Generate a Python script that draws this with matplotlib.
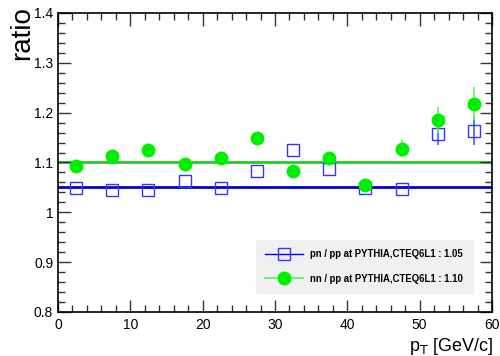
import matplotlib
matplotlib.use("Agg")
import matplotlib.pyplot as plt
from matplotlib.ticker import MultipleLocator
from matplotlib.lines import Line2D

plt.rcParams['font.family'] = ['Liberation Sans', 'DejaVu Sans']

pt = [2.5, 7.5, 12.5, 17.5, 22.5, 27.5, 32.5, 37.5, 42.5, 47.5, 52.5, 57.5]
pn_ratio = [1.048, 1.045, 1.045, 1.062, 1.048, 1.083, 1.125, 1.087, 1.049, 1.046, 1.158, 1.164]
pn_err = [0, 0, 0, 0, 0, 0, 0, 0, 0, 0, 0.023, 0.028]
nn_ratio = [1.092, 1.114, 1.125, 1.096, 1.108, 1.150, 1.083, 1.108, 1.055, 1.128, 1.186, 1.218]
nn_err = [0, 0, 0, 0, 0, 0, 0, 0, 0, 0.018, 0.026, 0.033]
pn_fit = 1.05
nn_fit = 1.10
pn_label = "pn / pp at PYTHIA,CTEQ6L1 : 1.05"
nn_label = "nn / pp at PYTHIA,CTEQ6L1 : 1.10"

fig = plt.figure(figsize=(5.0, 3.56), dpi=100)
ax = fig.add_axes([0.116, 0.1236, 0.868, 0.84])

ax.axhline(pn_fit, color='#0000cc', lw=2, zorder=1)
ax.axhline(nn_fit, color='#22cc22', lw=2, zorder=1)

ax.errorbar(pt, pn_ratio, yerr=pn_err, fmt='s', mfc='none', mec='#3333ff', ms=9,
            mew=1.0, ecolor='#5555ff', elinewidth=1.2, capsize=0, zorder=3)
ax.errorbar(pt, nn_ratio, yerr=nn_err, fmt='o', mfc='#00ee00', mec='#00ee00', ms=9,
            ecolor='#66ee66', elinewidth=1.2, capsize=0, zorder=4)

ax.set_xlim(0, 60)
ax.set_ylim(0.8, 1.4)
ax.xaxis.set_major_locator(MultipleLocator(10))
ax.xaxis.set_minor_locator(MultipleLocator(2))
ax.yaxis.set_minor_locator(MultipleLocator(0.02))
ax.set_yticks([0.8, 0.9, 1.0, 1.1, 1.2, 1.3, 1.4])
ax.set_yticklabels(['0.8', '0.9', '1', '1.1', '1.2', '1.3', '1.4'])
ax.tick_params(which='both', direction='in', top=True, right=True, labelsize=10, color='#333333')
ax.tick_params(which='major', length=9, width=1)
ax.tick_params(which='minor', length=5, width=1)
ax.tick_params(axis='x', pad=4)
for s in ax.spines.values():
    s.set_linewidth(1.2)

fig.text(22 / 500, 1 - 33 / 356, 'ratio', fontsize=20, rotation=90, ha='center', va='center')
ax.set_xlabel(r'p$_{\mathrm{T}}$ [GeV/c]', fontsize=13, ha='right')
ax.xaxis.set_label_coords(1.003, -0.08)

h1 = Line2D([], [], color='#0000ff', lw=1, marker='s', mfc='none', mec='#3333ff', ms=9, mew=1.0)
h2 = Line2D([], [], color='#77ee77', lw=1.5, marker='o', mfc='#00ee00', mec='#00ee00', ms=9)
leg = ax.legend([h1, h2], [pn_label, nn_label], loc='lower right',
                bbox_to_anchor=(0.956, 0.063), frameon=True, fancybox=False,
                facecolor='#f0f0f0', edgecolor='#f0f0f0', framealpha=1,
                prop={'size': 6.9, 'weight': 'bold'}, handlelength=3.9,
                borderpad=1.0, labelspacing=1.5, handletextpad=0.8, borderaxespad=0)

fig.savefig('out.png', dpi=100)
